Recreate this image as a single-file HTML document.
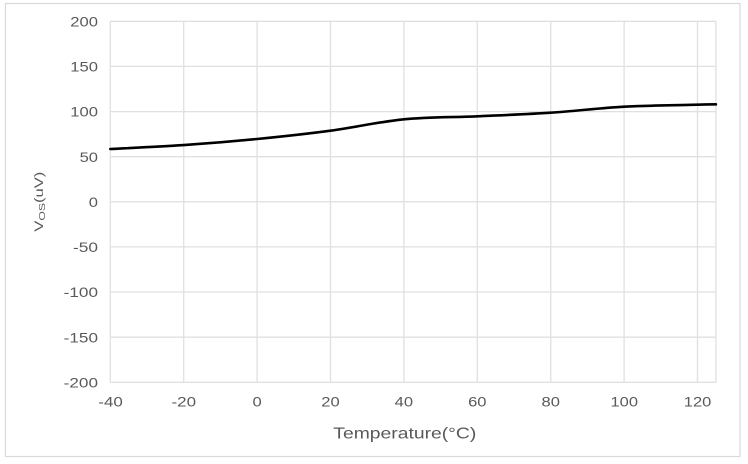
<!DOCTYPE html>
<html>
<head>
<meta charset="utf-8">
<style>
html,body{margin:0;padding:0;background:#fff;}
svg{display:block;}
text{font-family:"Liberation Sans",Arial,sans-serif;fill:#595959;}
</style>
</head>
<body>
<svg width="748" height="464" viewBox="0 0 748 464" xmlns="http://www.w3.org/2000/svg">
<rect x="0" y="0" width="748" height="464" fill="#fff"/>
<rect x="5.5" y="3.5" width="734.5" height="453" fill="#fff" stroke="#d9d9d9" stroke-width="1.2"/>
<g stroke="#e0e0e0" stroke-width="1.3" fill="none">
<line x1="110.3" y1="21.3" x2="715.9" y2="21.3"/>
<line x1="110.3" y1="66.4" x2="715.9" y2="66.4"/>
<line x1="110.3" y1="111.6" x2="715.9" y2="111.6"/>
<line x1="110.3" y1="156.7" x2="715.9" y2="156.7"/>
<line x1="110.3" y1="201.8" x2="715.9" y2="201.8"/>
<line x1="110.3" y1="246.9" x2="715.9" y2="246.9"/>
<line x1="110.3" y1="292.0" x2="715.9" y2="292.0"/>
<line x1="110.3" y1="337.2" x2="715.9" y2="337.2"/>
<line x1="110.3" y1="382.3" x2="715.9" y2="382.3"/>
<line x1="110.3" y1="21.3" x2="110.3" y2="382.3"/>
<line x1="183.7" y1="21.3" x2="183.7" y2="382.3"/>
<line x1="257.1" y1="21.3" x2="257.1" y2="382.3"/>
<line x1="330.5" y1="21.3" x2="330.5" y2="382.3"/>
<line x1="403.9" y1="21.3" x2="403.9" y2="382.3"/>
<line x1="477.3" y1="21.3" x2="477.3" y2="382.3"/>
<line x1="550.7" y1="21.3" x2="550.7" y2="382.3"/>
<line x1="624.1" y1="21.3" x2="624.1" y2="382.3"/>
<line x1="697.5" y1="21.3" x2="697.5" y2="382.3"/>
<line x1="715.9" y1="21.3" x2="715.9" y2="382.3"/>
</g>
<path d="M110.3,149.0 C122.5,148.35 159.2,146.77 183.7,145.1 C208.2,143.43 232.6,141.4 257.1,139.0 C281.6,136.6 306.0,133.98 330.5,130.7 C355.0,127.42 379.4,121.7 403.9,119.3 C428.4,116.9 452.8,117.4 477.3,116.3 C501.8,115.2 526.2,114.3 550.7,112.7 C575.2,111.1 599.6,108.03 624.1,106.7 C648.6,105.37 682.2,105.1 697.5,104.7 C703.6,104.55 709.8,104.4 715.9,104.3" fill="none" stroke="#000" stroke-width="2.6" stroke-linejoin="round" stroke-linecap="round"/>
<g font-size="14" text-anchor="end">
<text x="98" y="26.5" textLength="27.7" lengthAdjust="spacingAndGlyphs">200</text>
<text x="98" y="71.5" textLength="27.7" lengthAdjust="spacingAndGlyphs">150</text>
<text x="98" y="116.7" textLength="27.7" lengthAdjust="spacingAndGlyphs">100</text>
<text x="98" y="161.8" textLength="18.4" lengthAdjust="spacingAndGlyphs">50</text>
<text x="98" y="206.9" textLength="9.2" lengthAdjust="spacingAndGlyphs">0</text>
<text x="98" y="252.0" textLength="25" lengthAdjust="spacingAndGlyphs">-50</text>
<text x="98" y="297.1" textLength="34.3" lengthAdjust="spacingAndGlyphs">-100</text>
<text x="98" y="342.3" textLength="34.3" lengthAdjust="spacingAndGlyphs">-150</text>
<text x="98" y="387.4" textLength="34.3" lengthAdjust="spacingAndGlyphs">-200</text>
</g>
<g font-size="14">
<text x="98.3" y="406.5" textLength="24.5" lengthAdjust="spacingAndGlyphs">-40</text>
<text x="171.5" y="406.5" textLength="24.5" lengthAdjust="spacingAndGlyphs">-20</text>
<text x="252.5" y="406.5" textLength="9.2" lengthAdjust="spacingAndGlyphs">0</text>
<text x="321.3" y="406.5" textLength="18.4" lengthAdjust="spacingAndGlyphs">20</text>
<text x="394.7" y="406.5" textLength="18.4" lengthAdjust="spacingAndGlyphs">40</text>
<text x="468.1" y="406.5" textLength="18.4" lengthAdjust="spacingAndGlyphs">60</text>
<text x="541.5" y="406.5" textLength="18.4" lengthAdjust="spacingAndGlyphs">80</text>
<text x="610.5" y="406.5" textLength="27.5" lengthAdjust="spacingAndGlyphs">100</text>
<text x="683.8" y="406.5" textLength="27.5" lengthAdjust="spacingAndGlyphs">120</text>
</g>
<text x="333.3" y="438.5" font-size="16" textLength="143" lengthAdjust="spacingAndGlyphs">Temperature(°C)</text>
<g transform="translate(42.8,231.7) rotate(-90)">
<text x="0" y="0" font-size="11.5" textLength="60" lengthAdjust="spacingAndGlyphs">V<tspan font-size="8.5" dy="2">OS</tspan><tspan font-size="11.5" dy="-2">(uV)</tspan></text>
</g>
</svg>
</body>
</html>
